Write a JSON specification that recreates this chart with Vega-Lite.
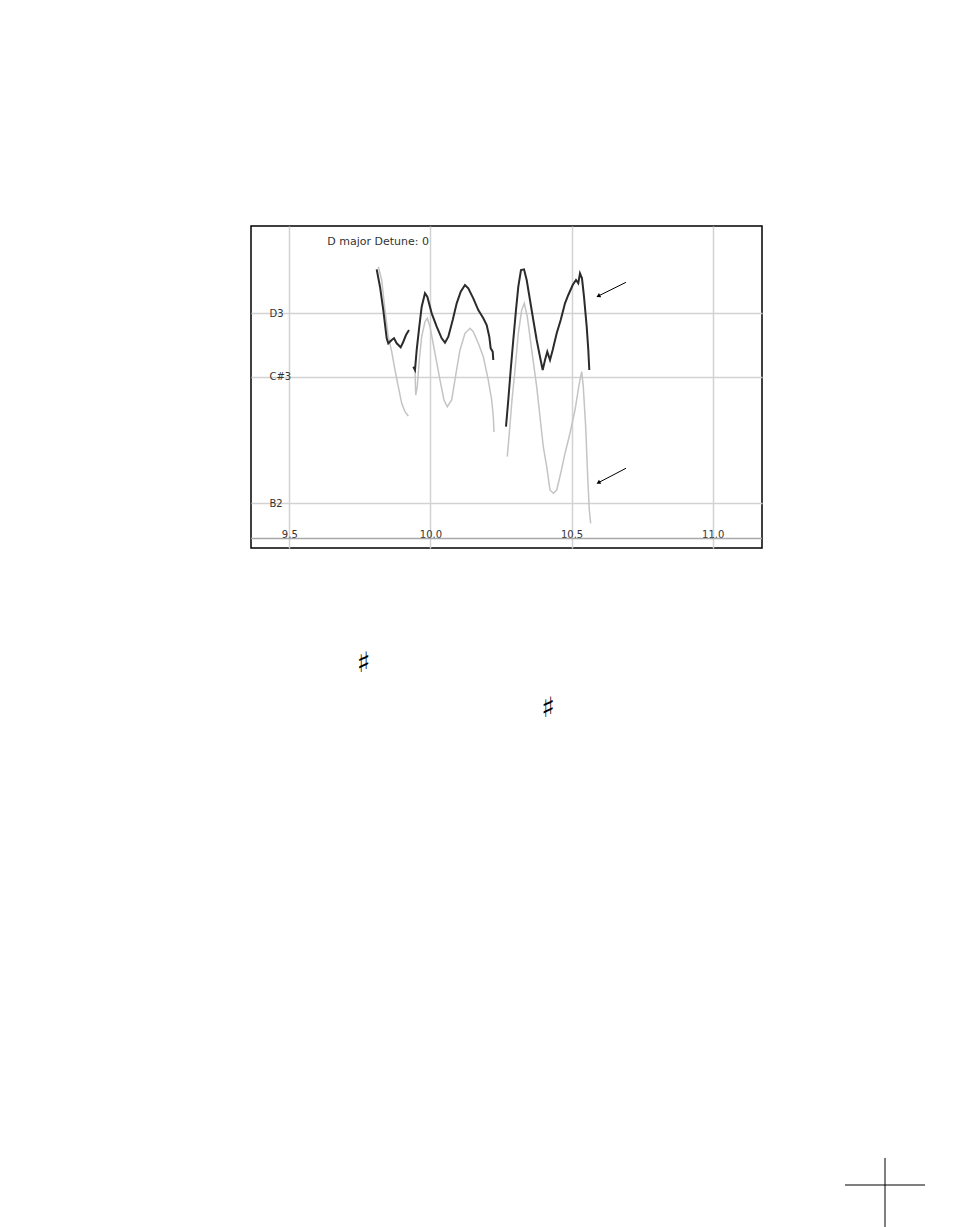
{
  "$schema": "https://vega.github.io/schema/vega-lite/v6.json",
  "width": 511,
  "height": 322,
  "autosize": {"type": "none"},
  "padding": {"left": 251, "top": 226, "right": 192, "bottom": 679},
  "background": "white",
  "title": {
    "text": "D major Detune: 0",
    "anchor": "start",
    "dx": 77,
    "offset": -30,
    "baseline": "alphabetic",
    "font": "DejaVu Sans",
    "fontSize": 11,
    "fontWeight": "normal",
    "color": "#333333"
  },
  "datasets": {
    "pitch": [
      {"g": "b1", "s": "b", "t": 9.8153, "p": 50.733},
      {"g": "b1", "s": "b", "t": 9.8273, "p": 50.524},
      {"g": "b1", "s": "b", "t": 9.8390, "p": 50.050},
      {"g": "b1", "s": "b", "t": 9.8507, "p": 49.629},
      {"g": "b1", "s": "b", "t": 9.8628, "p": 49.393},
      {"g": "b1", "s": "b", "t": 9.8744, "p": 49.104},
      {"g": "b1", "s": "b", "t": 9.8861, "p": 48.841},
      {"g": "b1", "s": "b", "t": 9.8982, "p": 48.579},
      {"g": "b1", "s": "b", "t": 9.9099, "p": 48.446},
      {"g": "b1", "s": "b", "t": 9.9216, "p": 48.379},
      {"g": "b2", "s": "b", "t": 9.9453, "p": 49.104},
      {"g": "b2", "s": "b", "t": 9.9478, "p": 48.710},
      {"g": "b2", "s": "b", "t": 9.9534, "p": 48.841},
      {"g": "b2", "s": "b", "t": 9.9605, "p": 49.262},
      {"g": "b2", "s": "b", "t": 9.9690, "p": 49.629},
      {"g": "b2", "s": "b", "t": 9.9807, "p": 49.866},
      {"g": "b2", "s": "b", "t": 9.9889, "p": 49.920},
      {"g": "b2", "s": "b", "t": 9.9984, "p": 49.787},
      {"g": "b2", "s": "b", "t": 10.0162, "p": 49.368},
      {"g": "b2", "s": "b", "t": 10.0339, "p": 48.946},
      {"g": "b2", "s": "b", "t": 10.0480, "p": 48.631},
      {"g": "b2", "s": "b", "t": 10.0597, "p": 48.525},
      {"g": "b2", "s": "b", "t": 10.0753, "p": 48.631},
      {"g": "b2", "s": "b", "t": 10.0906, "p": 49.052},
      {"g": "b2", "s": "b", "t": 10.1047, "p": 49.420},
      {"g": "b2", "s": "b", "t": 10.1224, "p": 49.683},
      {"g": "b2", "s": "b", "t": 10.1402, "p": 49.762},
      {"g": "b2", "s": "b", "t": 10.1518, "p": 49.708},
      {"g": "b2", "s": "b", "t": 10.1696, "p": 49.525},
      {"g": "b2", "s": "b", "t": 10.1873, "p": 49.314},
      {"g": "b2", "s": "b", "t": 10.2050, "p": 48.946},
      {"g": "b2", "s": "b", "t": 10.2170, "p": 48.631},
      {"g": "b2", "s": "b", "t": 10.2227, "p": 48.367},
      {"g": "b2", "s": "b", "t": 10.2252, "p": 48.126},
      {"g": "b3", "s": "b", "t": 10.2723, "p": 47.737},
      {"g": "b3", "s": "b", "t": 10.2794, "p": 48.106},
      {"g": "b3", "s": "b", "t": 10.2889, "p": 48.631},
      {"g": "b3", "s": "b", "t": 10.2996, "p": 49.104},
      {"g": "b3", "s": "b", "t": 10.3113, "p": 49.683},
      {"g": "b3", "s": "b", "t": 10.3233, "p": 50.050},
      {"g": "b3", "s": "b", "t": 10.3325, "p": 50.156},
      {"g": "b3", "s": "b", "t": 10.3431, "p": 49.945},
      {"g": "b3", "s": "b", "t": 10.3587, "p": 49.420},
      {"g": "b3", "s": "b", "t": 10.3764, "p": 48.841},
      {"g": "b3", "s": "b", "t": 10.3881, "p": 48.367},
      {"g": "b3", "s": "b", "t": 10.3998, "p": 47.894},
      {"g": "b3", "s": "b", "t": 10.4119, "p": 47.579},
      {"g": "b3", "s": "b", "t": 10.4236, "p": 47.211},
      {"g": "b3", "s": "b", "t": 10.4353, "p": 47.159},
      {"g": "b3", "s": "b", "t": 10.4473, "p": 47.211},
      {"g": "b3", "s": "b", "t": 10.4615, "p": 47.475},
      {"g": "b3", "s": "b", "t": 10.4767, "p": 47.790},
      {"g": "b3", "s": "b", "t": 10.4944, "p": 48.106},
      {"g": "b3", "s": "b", "t": 10.5121, "p": 48.473},
      {"g": "b3", "s": "b", "t": 10.5274, "p": 48.894},
      {"g": "b3", "s": "b", "t": 10.5359, "p": 49.077},
      {"g": "b3", "s": "b", "t": 10.5415, "p": 48.841},
      {"g": "b3", "s": "b", "t": 10.5500, "p": 48.210},
      {"g": "b3", "s": "b", "t": 10.5571, "p": 47.421},
      {"g": "b3", "s": "b", "t": 10.5628, "p": 46.896},
      {"g": "b3", "s": "b", "t": 10.5677, "p": 46.686},
      {"g": "a1", "s": "a", "t": 9.8096, "p": 50.692},
      {"g": "a1", "s": "a", "t": 9.8213, "p": 50.418},
      {"g": "a1", "s": "a", "t": 9.8330, "p": 50.050},
      {"g": "a1", "s": "a", "t": 9.8450, "p": 49.604},
      {"g": "a1", "s": "a", "t": 9.8507, "p": 49.525},
      {"g": "a1", "s": "a", "t": 9.8628, "p": 49.577},
      {"g": "a1", "s": "a", "t": 9.8709, "p": 49.604},
      {"g": "a1", "s": "a", "t": 9.8805, "p": 49.525},
      {"g": "a1", "s": "a", "t": 9.8946, "p": 49.462},
      {"g": "a1", "s": "a", "t": 9.9039, "p": 49.550},
      {"g": "a1", "s": "a", "t": 9.9134, "p": 49.656},
      {"g": "a1", "s": "a", "t": 9.9240, "p": 49.735},
      {"g": "a2", "s": "a", "t": 9.9393, "p": 49.156},
      {"g": "a2", "s": "a", "t": 9.9453, "p": 49.104},
      {"g": "a2", "s": "a", "t": 9.9513, "p": 49.420},
      {"g": "a2", "s": "a", "t": 9.9605, "p": 49.787},
      {"g": "a2", "s": "a", "t": 9.9690, "p": 50.103},
      {"g": "a2", "s": "a", "t": 9.9807, "p": 50.314},
      {"g": "a2", "s": "a", "t": 9.9889, "p": 50.260},
      {"g": "a2", "s": "a", "t": 10.0045, "p": 49.998},
      {"g": "a2", "s": "a", "t": 10.0222, "p": 49.787},
      {"g": "a2", "s": "a", "t": 10.0399, "p": 49.604},
      {"g": "a2", "s": "a", "t": 10.0516, "p": 49.535},
      {"g": "a2", "s": "a", "t": 10.0633, "p": 49.629},
      {"g": "a2", "s": "a", "t": 10.0789, "p": 49.893},
      {"g": "a2", "s": "a", "t": 10.0930, "p": 50.156},
      {"g": "a2", "s": "a", "t": 10.1072, "p": 50.339},
      {"g": "a2", "s": "a", "t": 10.1224, "p": 50.445},
      {"g": "a2", "s": "a", "t": 10.1341, "p": 50.393},
      {"g": "a2", "s": "a", "t": 10.1518, "p": 50.235},
      {"g": "a2", "s": "a", "t": 10.1696, "p": 50.050},
      {"g": "a2", "s": "a", "t": 10.1873, "p": 49.920},
      {"g": "a2", "s": "a", "t": 10.1993, "p": 49.814},
      {"g": "a2", "s": "a", "t": 10.2085, "p": 49.629},
      {"g": "a2", "s": "a", "t": 10.2135, "p": 49.446},
      {"g": "a2", "s": "a", "t": 10.2206, "p": 49.393},
      {"g": "a2", "s": "a", "t": 10.2227, "p": 49.262},
      {"g": "a3", "s": "a", "t": 10.2677, "p": 48.210},
      {"g": "a3", "s": "a", "t": 10.2758, "p": 48.631},
      {"g": "a3", "s": "a", "t": 10.2843, "p": 49.104},
      {"g": "a3", "s": "a", "t": 10.2935, "p": 49.577},
      {"g": "a3", "s": "a", "t": 10.3031, "p": 50.050},
      {"g": "a3", "s": "a", "t": 10.3113, "p": 50.418},
      {"g": "a3", "s": "a", "t": 10.3208, "p": 50.681},
      {"g": "a3", "s": "a", "t": 10.3315, "p": 50.692},
      {"g": "a3", "s": "a", "t": 10.3410, "p": 50.524},
      {"g": "a3", "s": "a", "t": 10.3527, "p": 50.208},
      {"g": "a3", "s": "a", "t": 10.3644, "p": 49.893},
      {"g": "a3", "s": "a", "t": 10.3764, "p": 49.577},
      {"g": "a3", "s": "a", "t": 10.3881, "p": 49.314},
      {"g": "a3", "s": "a", "t": 10.3977, "p": 49.104},
      {"g": "a3", "s": "a", "t": 10.4059, "p": 49.262},
      {"g": "a3", "s": "a", "t": 10.4140, "p": 49.393},
      {"g": "a3", "s": "a", "t": 10.4236, "p": 49.262},
      {"g": "a3", "s": "a", "t": 10.4331, "p": 49.420},
      {"g": "a3", "s": "a", "t": 10.4473, "p": 49.683},
      {"g": "a3", "s": "a", "t": 10.4615, "p": 49.893},
      {"g": "a3", "s": "a", "t": 10.4767, "p": 50.156},
      {"g": "a3", "s": "a", "t": 10.4884, "p": 50.287},
      {"g": "a3", "s": "a", "t": 10.5040, "p": 50.445},
      {"g": "a3", "s": "a", "t": 10.5157, "p": 50.524},
      {"g": "a3", "s": "a", "t": 10.5238, "p": 50.472},
      {"g": "a3", "s": "a", "t": 10.5298, "p": 50.629},
      {"g": "a3", "s": "a", "t": 10.5369, "p": 50.550},
      {"g": "a3", "s": "a", "t": 10.5440, "p": 50.260},
      {"g": "a3", "s": "a", "t": 10.5536, "p": 49.787},
      {"g": "a3", "s": "a", "t": 10.5593, "p": 49.420},
      {"g": "a3", "s": "a", "t": 10.5628, "p": 49.104}
    ],
    "baseline": [
      {"p": 46.446}
    ],
    "arrows": [
      {"x": 10.6928, "y": 50.487, "x2": 10.5947, "y2": 50.271},
      {"x": 10.6928, "y": 47.554, "x2": 10.5947, "y2": 47.326}
    ],
    "sharps": [
      {"x": 9.7629, "y": 44.467, "label": "♯"},
      {"x": 10.4165, "y": 43.757, "label": "♯"}
    ],
    "crop": [
      {"x": 11.4687, "y": 36.249, "x2": 11.7521, "y2": 36.249},
      {"x": 11.6104, "y": 36.675, "x2": 11.6104, "y2": 35.587}
    ]
  },
  "config": {
    "view": {"stroke": "black", "strokeWidth": 1.5},
    "font": "DejaVu Sans",
    "axis": {
      "labelFont": "DejaVu Sans",
      "labelFontSize": 10,
      "labelColor": "#333333",
      "gridColor": "#d2d2d2",
      "gridWidth": 1.5,
      "domain": false,
      "ticks": false,
      "tickSize": 0,
      "title": null
    }
  },
  "layer": [
    {
      "data": {"name": "baseline"},
      "mark": {"type": "rule", "color": "#a8a8a8", "strokeWidth": 1.5},
      "encoding": {
        "y": {"field": "p", "type": "quantitative", "title": null}
      }
    },
    {
      "data": {"name": "pitch"},
      "mark": {"type": "line", "clip": true},
      "encoding": {
        "x": {
          "field": "t",
          "type": "quantitative",
          "scale": {"domain": [9.36431, 11.17463], "nice": false, "zero": false},
          "axis": {
            "values": [9.5, 10, 10.5, 11],
            "format": ".1f",
            "grid": true,
            "labelPadding": -11,
            "labelBaseline": "alphabetic",
            "labelFlush": false,
            "labelOverlap": false
          },
          "title": null
        },
        "y": {
          "field": "p",
          "type": "quantitative",
          "scale": {"domain": [46.2965, 51.3754], "nice": false, "zero": false},
          "axis": {
            "values": [50, 49, 47],
            "labelExpr": "datum.value == 50 ? 'D3' : datum.value == 49 ? 'C#3' : 'B2'",
            "grid": true,
            "labelAlign": "left",
            "labelPadding": -18,
            "labelFlush": false,
            "labelOverlap": false
          },
          "title": null
        },
        "detail": {"field": "g", "type": "nominal"},
        "color": {
          "field": "s",
          "type": "nominal",
          "scale": {"domain": ["a", "b"], "range": ["#2b2b2b", "#c4c4c4"]},
          "legend": null
        },
        "strokeWidth": {
          "field": "s",
          "type": "nominal",
          "scale": {"domain": ["a", "b"], "range": [2, 1.5]},
          "legend": null
        }
      }
    },
    {
      "data": {"name": "arrows"},
      "mark": {"type": "rule", "color": "black", "strokeWidth": 1},
      "encoding": {
        "x": {"field": "x", "type": "quantitative", "title": null},
        "y": {"field": "y", "type": "quantitative", "title": null},
        "x2": {"field": "x2"},
        "y2": {"field": "y2"}
      }
    },
    {
      "data": {"name": "arrows"},
      "mark": {"type": "point", "shape": "triangle-right", "filled": true, "color": "black", "size": 22, "angle": 152, "opacity": 1},
      "encoding": {
        "x": {"field": "x2", "type": "quantitative", "title": null},
        "y": {"field": "y2", "type": "quantitative", "title": null}
      }
    },
    {
      "data": {"name": "sharps"},
      "mark": {"type": "text", "font": "DejaVu Sans", "fontSize": 28, "color": "black", "baseline": "middle", "align": "center"},
      "encoding": {
        "x": {"field": "x", "type": "quantitative", "title": null},
        "y": {"field": "y", "type": "quantitative", "title": null},
        "text": {"field": "label"}
      }
    },
    {
      "data": {"name": "crop"},
      "mark": {"type": "rule", "color": "black", "strokeWidth": 1},
      "encoding": {
        "x": {"field": "x", "type": "quantitative", "title": null},
        "y": {"field": "y", "type": "quantitative", "title": null},
        "x2": {"field": "x2"},
        "y2": {"field": "y2"}
      }
    }
  ]
}
